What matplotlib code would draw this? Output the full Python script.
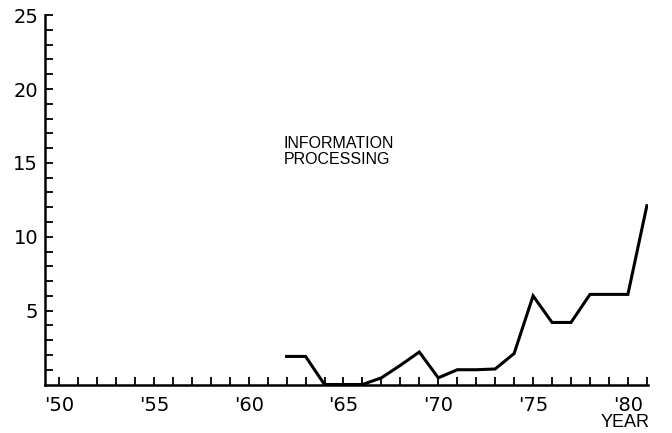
import matplotlib.pyplot as plt
import numpy as np

#---------------------------------------------
'''DATA'''
#---------------------------------------------
years = [62, 63, 64, 65, 66, 67, 68, 69, 70, 71, 72, 73, 74, 75, 76, 77, 78, 79, 80, 81]
values = [1.9, 1.9, 0.0, 0.0, 0.0, 0.45, 1.3, 2.2, 0.45, 1.0, 1.0, 1.05, 2.1, 6.0, 4.2, 4.2, 6.1, 6.1, 6.1, 12.1]

xtick_pos = [50, 55, 60, 65, 70, 75, 80]
xtick_labels = ["'50", "'55", "'60", "'65", "'70", "'75", "'80"]
ytick_pos = [5, 10, 15, 20, 25]

#---------------------------------------------
'''PLOTTING'''
#---------------------------------------------
plt.rcParams['font.family'] = ['DejaVu Sans']

fig = plt.figure(figsize=(6.72, 4.33), dpi=100)
ax = fig.add_axes([0.067, 0.112, 0.897, 0.853])

ax.plot(years, values, c='k', lw=2.2, solid_joinstyle='miter')

#axes look
ax.spines['top'].set_visible(False)
ax.spines['right'].set_visible(False)
ax.spines['left'].set_linewidth(1.8)
ax.spines['bottom'].set_linewidth(1.8)

ax.set_xlim(49.26, 81.05)
ax.set_ylim(0, 25)

ax.set_xticks(xtick_pos)
ax.set_xticklabels(xtick_labels)
ax.set_xticks(np.arange(50, 82), minor=True)
ax.set_yticks(ytick_pos)
ax.set_yticks(np.arange(1, 26), minor=True)

ax.tick_params(axis='both', which='both', direction='in', length=6, width=1.3, colors='k')
ax.tick_params(axis='x', which='major', labelsize=14, pad=8)
ax.tick_params(axis='y', which='major', labelsize=14, pad=5)

#labels
ax.text(61.85, 15.75, 'INFORMATION\nPROCESSING', fontsize=11.5, ha='left', va='center',
        linespacing=1.1, family=['Liberation Sans', 'DejaVu Sans'])
fig.text(0.966, 0.025, 'YEAR', fontsize=13, ha='right', va='center',
         family=['Liberation Sans', 'DejaVu Sans'])

plt.savefig('out.png', dpi=100)
